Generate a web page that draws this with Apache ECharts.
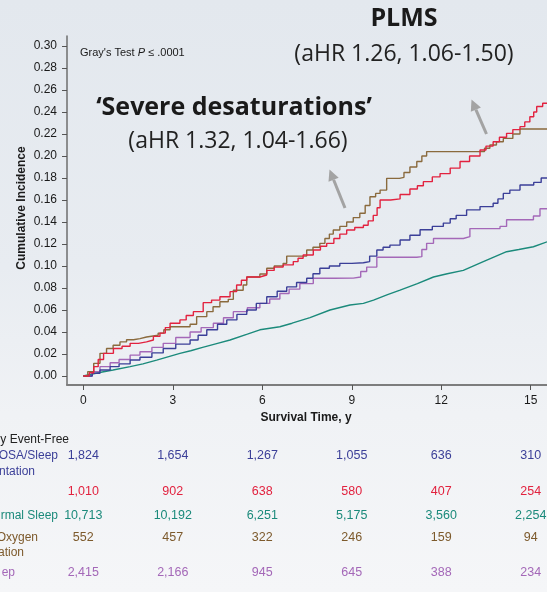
<!DOCTYPE html>
<html>
<head>
<meta charset="utf-8">
<script src="https://cdn.jsdelivr.net/npm/echarts@6/dist/echarts.min.js"></script>
<style>
html,body{margin:0;padding:0;width:547px;height:592px;overflow:hidden;
background:linear-gradient(180deg,#e3e8ee 0%,#e8ecf1 45%,#f0f2f5 70%,#f5f6f8 100%);}
#c{position:absolute;left:0;top:0;width:547px;height:592px;}
</style>
</head>
<body>
<div id="c"></div>
<script>
// ---- data ----
const xTickValues = [0, 3, 6, 9, 12, 15];
const yTickValues = [0, 0.02, 0.04, 0.06, 0.08, 0.10, 0.12, 0.14, 0.16, 0.18, 0.20, 0.22, 0.24, 0.26, 0.28, 0.30];

const normalSleep = [[0,0],[0.5,0.003],[1,0.0055],[1.57,0.0085],[2,0.011],[2.46,0.0145],[3.24,0.0206],[3.6,0.023],[4.0,0.026],[4.5,0.0297],[4.92,0.0327],[5.5,0.038],[5.92,0.042],[6.59,0.0448],[7.0,0.048],[7.6,0.053],[8.27,0.060],[8.94,0.0645],[9.39,0.066],[9.73,0.069],[10.2,0.074],[10.62,0.078],[11.2,0.084],[11.74,0.090],[12.2,0.093],[12.74,0.096],[13.41,0.104],[14.19,0.113],[14.6,0.115],[15.09,0.1175],[15.55,0.122]];

const mildOSA = [[0,0],[0.3,0.0025],[0.56,0.0055],[0.9,0.0085],[1.2,0.011],[1.57,0.0145],[1.9,0.017],[2.3,0.021],[2.68,0.025],[3.1,0.029],[3.58,0.0327],[3.85,0.037],[4.14,0.042],[4.5,0.047],[4.81,0.051],[5.15,0.056],[5.48,0.060],[5.8,0.066],[6.15,0.072],[6.5,0.077],[6.82,0.081],[7.15,0.085],[7.49,0.0888],[7.7,0.093],[7.93,0.098],[8.25,0.100],[8.6,0.1024],[9.0,0.103],[9.39,0.104],[9.6,0.109],[9.84,0.1145],[10.05,0.117],[10.28,0.119],[10.62,0.1236],[10.95,0.128],[11.29,0.133],[11.7,0.136],[12.07,0.139],[12.3,0.143],[12.5,0.146],[12.85,0.151],[13.3,0.154],[13.74,0.157],[13.9,0.161],[14.08,0.166],[14.3,0.169],[14.64,0.1736],[15.1,0.176],[15.35,0.180],[15.55,0.180]];

const shortSleep = [[0,0],[0.3,0.004],[0.56,0.0085],[0.9,0.012],[1.2,0.015],[1.57,0.019],[1.9,0.022],[2.3,0.026],[2.68,0.0297],[3.1,0.035],[3.58,0.040],[3.95,0.044],[4.36,0.048],[4.7,0.053],[5.03,0.0585],[5.5,0.062],[5.92,0.066],[6.25,0.070],[6.59,0.075],[6.9,0.079],[7.26,0.084],[7.71,0.0888],[8.4,0.089],[9.05,0.090],[9.3,0.095],[9.5,0.099],[9.84,0.108],[11.18,0.1085],[11.35,0.115],[11.51,0.1206],[11.74,0.125],[12.74,0.1267],[12.96,0.134],[13.97,0.136],[14.19,0.142],[15.09,0.1455],[15.31,0.152],[15.55,0.152]];

const plms = [[0,0],[0.2,0.003],[0.35,0.0085],[0.5,0.015],[0.68,0.0206],[1.01,0.025],[1.3,0.027],[1.57,0.0297],[1.85,0.031],[2.12,0.0327],[2.35,0.036],[2.57,0.039],[2.75,0.044],[2.91,0.048],[3.24,0.051],[3.45,0.055],[3.69,0.0585],[4.02,0.0667],[4.3,0.069],[4.58,0.072],[4.92,0.0767],[5.14,0.0827],[5.3,0.087],[5.48,0.090],[5.92,0.0918],[6.15,0.096],[6.4,0.099],[6.7,0.101],[7.04,0.104],[7.2,0.107],[7.37,0.110],[7.71,0.1145],[7.95,0.118],[8.16,0.1206],[8.4,0.125],[8.6,0.129],[8.83,0.1327],[9.1,0.135],[9.39,0.137],[9.55,0.141],[9.72,0.146],[9.85,0.153],[9.95,0.160],[10.3,0.161],[10.62,0.165],[10.95,0.170],[11.2,0.173],[11.4,0.1767],[11.7,0.181],[11.96,0.184],[12.3,0.189],[12.63,0.195],[12.95,0.200],[13.3,0.2055],[13.5,0.209],[13.74,0.213],[13.95,0.217],[14.19,0.2206],[14.4,0.224],[14.64,0.2267],[14.8,0.231],[14.97,0.2357],[15.1,0.24],[15.2,0.245],[15.4,0.248],[15.55,0.248]];

const severeDesat = [[0,0],[0.15,0.004],[0.35,0.0115],[0.56,0.0206],[0.78,0.025],[1.0,0.028],[1.23,0.031],[1.45,0.033],[1.68,0.034],[1.9,0.0355],[2.12,0.037],[2.51,0.039],[2.7,0.042],[2.91,0.0448],[3.58,0.047],[3.8,0.054],[4.14,0.0585],[4.35,0.063],[4.58,0.0675],[4.86,0.0697],[5.03,0.078],[5.36,0.0827],[5.48,0.090],[5.92,0.0927],[6.15,0.098],[6.4,0.1],[6.7,0.1024],[6.82,0.109],[7.26,0.109],[7.49,0.1145],[7.7,0.117],[7.93,0.1206],[8.1,0.125],[8.25,0.129],[8.38,0.1327],[8.6,0.136],[8.83,0.140],[9.05,0.144],[9.27,0.148],[9.45,0.155],[9.61,0.163],[9.8,0.166],[9.95,0.169],[10.17,0.1797],[10.6,0.1806],[10.75,0.185],[10.95,0.190],[11.18,0.195],[11.35,0.200],[11.51,0.204],[13.3,0.204],[13.45,0.207],[13.63,0.21],[13.85,0.213],[14.08,0.216],[14.4,0.220],[14.64,0.2245],[15.55,0.2245]];

// numbers at risk / event-free
const riskMildOSA = [1824, 1654, 1267, 1055, 636, 310];
const riskPLMS = [1010, 902, 638, 580, 407, 254];
const riskNormal = [10713, 10192, 6251, 5175, 3560, 2254];
const riskSevere = [552, 457, 322, 246, 159, 94];
const riskShort = [2415, 2166, 945, 645, 388, 234];

// ---- style ----
const C = {
  blue: '#3b3f98', red: '#e2223f', teal: '#1b8a7b', brown: '#8a6a3d', purple: '#a468b8',
  brownText: '#7d5a2c'
};
const FONT = '"Liberation Sans", Arial, Helvetica, sans-serif';
const AFONT = '"Open Sans", "Noto Sans", sans-serif';

const chart = echarts.init(document.getElementById('c'), null, {renderer: 'canvas'});

function stepSeries(name, data, color, step) {
  return {
    name, type: 'line', data, step: step ? 'end' : false, showSymbol: false, symbol: 'none',
    lineStyle: {color, width: 1.4}, itemStyle: {color}, silent: true, animation: false, clip: true
  };
}

chart.setOption({
  animation: false,
  grid: {left: 67, right: 0, top: 36, bottom: 207, containLabel: false},
  xAxis: {
    type: 'value', min: -0.546, max: 15.545,
    axisLine: {show: true, onZero: false, lineStyle: {color: '#7d7d7d', width: 2}},
    axisTick: {show: true, length: 5, customValues: xTickValues, lineStyle: {color: '#555', width: 1}},
    axisLabel: {show: true, customValues: xTickValues, margin: 10, color: '#1a1a1a', fontSize: 12, fontFamily: FONT},
    splitLine: {show: false}
  },
  yAxis: {
    type: 'value', min: -0.00818, max: 0.3091,
    axisLine: {show: true, onZero: false, lineStyle: {color: '#6e6e6e', width: 1.5}},
    axisTick: {show: true, length: 5, customValues: yTickValues, lineStyle: {color: '#555', width: 1}},
    axisLabel: {show: true, customValues: yTickValues, margin: 10, color: '#1a1a1a', fontSize: 12, fontFamily: FONT,
      formatter: v => Number(v).toFixed(2)},
    splitLine: {show: false}
  },
  series: [
    stepSeries('Normal Sleep', normalSleep, C.teal, false),
    stepSeries('Short Sleep', shortSleep, C.purple, true),
    stepSeries('Mild OSA/Sleep Fragmentation', mildOSA, C.blue, true),
    stepSeries('Severe Oxygen Desaturation', severeDesat, C.brown, true),
    stepSeries('PLMS', plms, C.red, true)
  ]
});

// ---- annotation + table graphics ----
const g = [];
const fmt = n => n.toLocaleString('en-US');

g.push({type: 'text', left: 80, top: 47, style: {
  text: "Gray's Test {i|P} \u2264 .0001", fill: '#1a1a1a', font: '11px ' + FONT,
  rich: {i: {fontStyle: 'italic', fontSize: 11, fontFamily: FONT, fill: '#1a1a1a'}}
}});
g.push({type: 'text', x: 404, y: 19, style: {text: 'PLMS', fill: '#1a1a1a', font: 'bold 25px ' + AFONT, textAlign: 'center', textVerticalAlign: 'middle'}});
g.push({type: 'text', x: 404, y: 54, style: {text: '(aHR 1.26, 1.06-1.50)', fill: '#222', font: '23px ' + AFONT, textAlign: 'center', textVerticalAlign: 'middle'}});
g.push({type: 'text', x: 234, y: 108, style: {text: '\u2018Severe desaturations\u2019', fill: '#1a1a1a', font: 'bold 25px ' + AFONT, textAlign: 'center', textVerticalAlign: 'middle'}});
g.push({type: 'text', x: 238, y: 141, style: {text: '(aHR 1.32, 1.04-1.66)', fill: '#222', font: '23px ' + AFONT, textAlign: 'center', textVerticalAlign: 'middle'}});

function arrow(tail, tip) {
  const dx = tip[0] - tail[0], dy = tip[1] - tail[1];
  const L = Math.hypot(dx, dy), ux = dx / L, uy = dy / L;
  const hl = 11, hw = 5.5;
  const bx = tip[0] - hl * ux, by = tip[1] - hl * uy;
  const px = -uy, py = ux;
  g.push({type: 'line', shape: {x1: tail[0], y1: tail[1], x2: bx, y2: by}, style: {stroke: '#a3a3a3', lineWidth: 3}});
  g.push({type: 'polygon', shape: {points: [[tip[0], tip[1]], [bx + hw * px, by + hw * py], [bx - hw * px, by - hw * py]]}, style: {fill: '#a3a3a3'}});
}
arrow([486.5, 134], [471.5, 99.5]);
arrow([345, 208], [329.5, 169.5]);

g.push({type: 'text', x: 306, y: 418, style: {text: 'Survival Time, y', fill: '#1a1a1a', font: 'bold 12px ' + FONT, textAlign: 'center', textVerticalAlign: 'middle'}});
g.push({type: 'text', x: 22, y: 208, rotation: Math.PI / 2, style: {text: 'Cumulative Incidence', fill: '#1a1a1a', font: 'bold 12px ' + FONT, textAlign: 'center', textVerticalAlign: 'middle'}});

// left-side row labels (cropped at the image edge) — right edges placed as in the reference
const LF = '12px ' + FONT;
const TF = '12.5px ' + FONT;
function lbl(text, xRight, y, color) {
  g.push({type: 'text', x: xRight, y, style: {text, fill: color, font: LF, textAlign: 'right', textVerticalAlign: 'middle'}});
}
lbl('y Event-Free', 69, 440, '#222');
lbl('OSA/Sleep', 58, 456, C.blue);
lbl('ntation', 35, 472, C.blue);
lbl('rmal Sleep', 58, 516, C.teal);
lbl('Oxygen', 38, 538, C.brownText);
lbl('ation', 24, 553, C.brownText);
lbl('ep', 15, 573, C.purple);

const rows = [
  [riskMildOSA, 456, C.blue],
  [riskPLMS, 492, C.red],
  [riskNormal, 516, C.teal],
  [riskSevere, 538, C.brownText],
  [riskShort, 573, C.purple]
];
rows.forEach(([vals, y, color]) => {
  vals.forEach((v, i) => {
    const x = chart.convertToPixel({xAxisIndex: 0}, xTickValues[i]);
    g.push({type: 'text', x, y, style: {text: fmt(v), fill: color, font: TF, textAlign: 'center', textVerticalAlign: 'middle'}});
  });
});

chart.setOption({graphic: g});
</script>
</body>
</html>
